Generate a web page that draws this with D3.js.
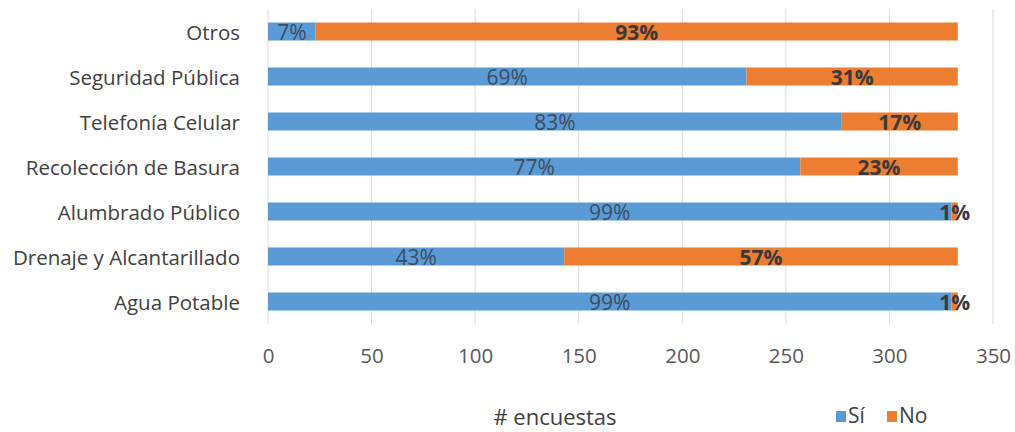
<!DOCTYPE html>
<html>
<head>
<meta charset="utf-8">
<script src="https://cdn.jsdelivr.net/npm/d3@7"></script>
<style>
  body { margin: 0; background: #fff; }
  svg { display: block; font-family: "Open Sans", sans-serif; }
</style>
</head>
<body>
<svg id="chart" width="1015" height="432"></svg>
<script>
// data, top to bottom
const categories = ["Otros", "Seguridad Pública", "Telefonía Celular", "Recolección de Basura",
                    "Alumbrado Público", "Drenaje y Alcantarillado", "Agua Potable"];
const si = [23, 231, 277, 257, 330, 143, 330];
const no = [310, 102, 56, 76, 3, 190, 3];
const xTicks = [0, 50, 100, 150, 200, 250, 300, 350];
const seriesNames = ["Sí", "No"];
const colors = ["#5b9bd5", "#ed7d31"];

const svg = d3.select("#chart");
const x = d3.scaleLinear().domain([0, 350]).range([268, 993]);
const y = d3.scaleBand().domain(categories).range([9, 324]).paddingInner(0.6).paddingOuter(0.3);

// gridlines
svg.append("g").selectAll("line")
  .data(xTicks)
  .enter().append("line")
  .attr("x1", d => x(d)).attr("x2", d => x(d))
  .attr("y1", 9).attr("y2", 324)
  .attr("stroke", "#dcdcdc").attr("stroke-width", 1);

// x axis labels
const xAxis = svg.append("g")
  .attr("transform", "translate(0,348.7)")
  .call(d3.axisBottom(x).tickValues(xTicks).tickSize(0).tickPadding(0));
xAxis.select(".domain").remove();
xAxis.selectAll("text")
  .attr("font-family", "Open Sans, sans-serif")
  .attr("font-size", 20.5).attr("fill", "#595959");

// y axis labels
const yAxis = svg.append("g")
  .attr("transform", "translate(240,0)")
  .call(d3.axisLeft(y).tickSize(0).tickPadding(0));
yAxis.select(".domain").remove();
yAxis.selectAll("text")
  .attr("font-family", "Open Sans, sans-serif")
  .attr("font-size", 20.5).attr("fill", "#404040")
  .attr("dy", "0.4em");

// stacked bars
const rows = categories.map((c, i) => ({ cat: c, "Sí": si[i], "No": no[i] }));
const stack = d3.stack().keys(seriesNames)(rows);

const layers = svg.append("g").selectAll("g")
  .data(stack)
  .enter().append("g")
  .attr("fill", (d, i) => colors[i]);

layers.selectAll("rect")
  .data(d => d)
  .enter().append("rect")
  .attr("x", d => x(d[0]))
  .attr("width", d => x(d[1]) - x(d[0]))
  .attr("y", d => y(d.data.cat))
  .attr("height", y.bandwidth());

// percent labels
layers.each(function(layer, li) {
  d3.select(this).selectAll("text")
    .data(layer)
    .enter().append("text")
    .attr("x", d => (x(d[0]) + x(d[1])) / 2)
    .attr("y", d => y(d.data.cat) + y.bandwidth() / 2 + 1)
    .attr("dy", "0.36em")
    .attr("text-anchor", "middle")
    .attr("font-size", 21)
    .attr("font-weight", li === 1 ? "bold" : "normal")
    .attr("fill", li === 1 ? "#3a3a3a" : "#3b4c60")
    .text(d => {
      const total = d.data["Sí"] + d.data["No"];
      return Math.round((d[1] - d[0]) / total * 100) + "%";
    });
});

// axis title
svg.append("text")
  .attr("x", 555).attr("y", 425)
  .attr("text-anchor", "middle")
  .attr("font-size", 22).attr("fill", "#404040")
  .text("# encuestas");

// legend
const legend = svg.append("g").attr("transform", "translate(836,411)");
const items = legend.selectAll("g")
  .data(seriesNames)
  .enter().append("g")
  .attr("transform", (d, i) => `translate(${i * 51},0)`);
items.append("rect").attr("width", 10).attr("height", 11)
  .attr("fill", (d, i) => colors[i]);
items.append("text").attr("x", 12).attr("y", 12)
  .attr("font-size", 21).attr("fill", "#404040")
  .text(d => d);
</script>
</body>
</html>
